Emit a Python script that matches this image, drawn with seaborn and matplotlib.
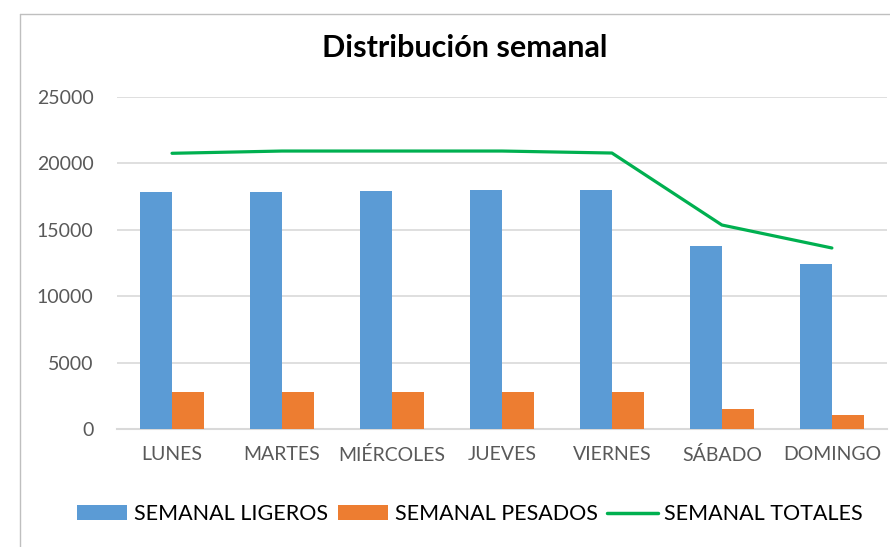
import numpy as np
import pandas as pd
import matplotlib.pyplot as plt
import seaborn as sns
from matplotlib.patches import Rectangle
from matplotlib.lines import Line2D

sns.set_theme(style="white")
plt.rcParams["font.family"] = ["Lato", "DejaVu Sans"]

# Datos
dias = ["LUNES", "MARTES", "MIÉRCOLES", "JUEVES", "VIERNES", "SÁBADO", "DOMINGO"]
ligeros = [17850, 17850, 17900, 18000, 18000, 13760, 12450]
pesados = [2810, 2810, 2810, 2810, 2810, 1480, 1060]
totales = [20760, 20930, 20930, 20930, 20780, 15360, 13630]
yticks = [0, 5000, 10000, 15000, 20000, 25000]

BLUE = "#5B9BD5"
ORANGE = "#ED7D31"
GREEN = "#00B050"
GRID = "#D9D9D9"
TXT = "#595959"

df = pd.DataFrame({
    "dia": dias * 2,
    "valor": ligeros + pesados,
    "serie": ["SEMANAL LIGEROS"] * len(dias) + ["SEMANAL PESADOS"] * len(dias),
})

fig = plt.figure(figsize=(8.9, 5.47), dpi=100)
ax = fig.add_axes([0.1315, 0.2157, 0.865, 0.607])

sns.barplot(data=df, x="dia", y="valor", hue="serie", order=dias,
            palette=[BLUE, ORANGE], saturation=1, width=0.58, linewidth=0,
            ax=ax, legend=False, zorder=3)
sns.lineplot(x=np.arange(len(dias)), y=totales, color=GREEN, linewidth=2.3,
             ax=ax, zorder=4, solid_capstyle="round")

ax.set_ylim(0, 25000)
ax.set_xlim(-0.5, len(dias) - 0.5)
ax.set_yticks(yticks)
ax.set_yticklabels([str(v) for v in yticks])
ax.yaxis.grid(True, color=GRID, linewidth=1.2, zorder=0)
ax.set_axisbelow(True)
for s in ["top", "right", "left"]:
    ax.spines[s].set_visible(False)
ax.spines["bottom"].set_color(GRID)
ax.spines["bottom"].set_linewidth(1.5)
ax.set_xlabel("")
ax.set_ylabel("")
ax.tick_params(axis="y", length=0, pad=17, labelsize=14, labelcolor=TXT)
ax.tick_params(axis="x", length=0, pad=12, labelsize=14, labelcolor=TXT)

fig.text(0.522, 0.912, "Distribución semanal", ha="center", va="center",
         fontsize=22, fontweight="bold", color="black")

handles = [
    Rectangle((0, 0), 1, 1, facecolor=BLUE, edgecolor="none"),
    Rectangle((0, 0), 1, 1, facecolor=ORANGE, edgecolor="none"),
    Line2D([0], [0], color=GREEN, linewidth=2.5),
]
fig.legend(handles, ["SEMANAL LIGEROS", "SEMANAL PESADOS", "SEMANAL TOTALES"],
           loc="center", bbox_to_anchor=(0.528, 0.06), ncol=3, frameon=False,
           fontsize=15.5, handlelength=2.35, handleheight=0.7, handletextpad=0.3,
           columnspacing=0.45, borderpad=0, labelcolor="black")

# marco del gráfico (recortado a la izquierda y arriba)
fig.add_artist(Line2D([20 / 890, 20 / 890], [0, 1 - 14 / 547],
                      transform=fig.transFigure, color="#BFBFBF", linewidth=1))
fig.add_artist(Line2D([20 / 890, 1], [1 - 14 / 547, 1 - 14 / 547],
                      transform=fig.transFigure, color="#BFBFBF", linewidth=1))

fig.savefig("out.png", dpi=100)
